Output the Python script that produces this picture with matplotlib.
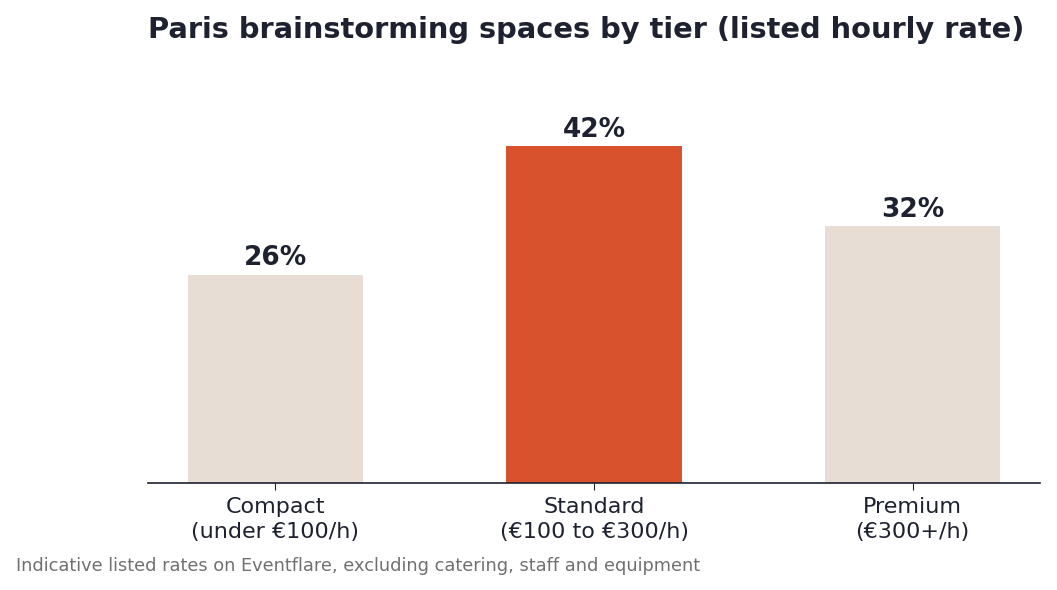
import matplotlib
matplotlib.use("Agg")
import matplotlib.pyplot as plt

categories = ["Compact\n(under €100/h)", "Standard\n(€100 to €300/h)", "Premium\n(€300+/h)"]
shares = [26, 42, 32]
highlight = "Standard\n(€100 to €300/h)"

TEXT = "#1e2130"
ORANGE = "#d8532d"
BEIGE = "#e7ddd4"

fig = plt.figure(figsize=(10.57, 5.9), dpi=100)
ax = fig.add_axes([0.14, 0.181, 0.844, 0.68])

x = list(range(len(categories)))
colors = [ORANGE if c == highlight else BEIGE for c in categories]
bars = ax.bar(x, shares, width=0.55, color=colors)
for xi, v in zip(x, shares):
    ax.text(xi, v + 0.4, f"{v}%", ha="center", va="bottom",
            fontsize=19, fontweight="bold", color=TEXT)

ax.set_xlim(-0.4, 2.4)
ax.set_ylim(0, 50)
ax.set_xticks(x)
ax.set_xticklabels(categories, fontsize=16, color=TEXT, linespacing=1.28)
ax.set_yticks([])
for s in ["top", "right", "left"]:
    ax.spines[s].set_visible(False)
ax.spines["bottom"].set_color(TEXT)
ax.spines["bottom"].set_linewidth(1.2)
ax.tick_params(axis="x", colors=TEXT, length=5, pad=5)

fig.text(0.14, 0.95, "Paris brainstorming spaces by tier (listed hourly rate)",
         fontsize=20.8, fontweight="bold", color=TEXT, ha="left", va="center")
fig.text(0.015, 0.041, "Indicative listed rates on Eventflare, excluding catering, staff and equipment",
         fontsize=12.75, color="#707070", ha="left", va="center")

fig.savefig("out.png", dpi=100)
